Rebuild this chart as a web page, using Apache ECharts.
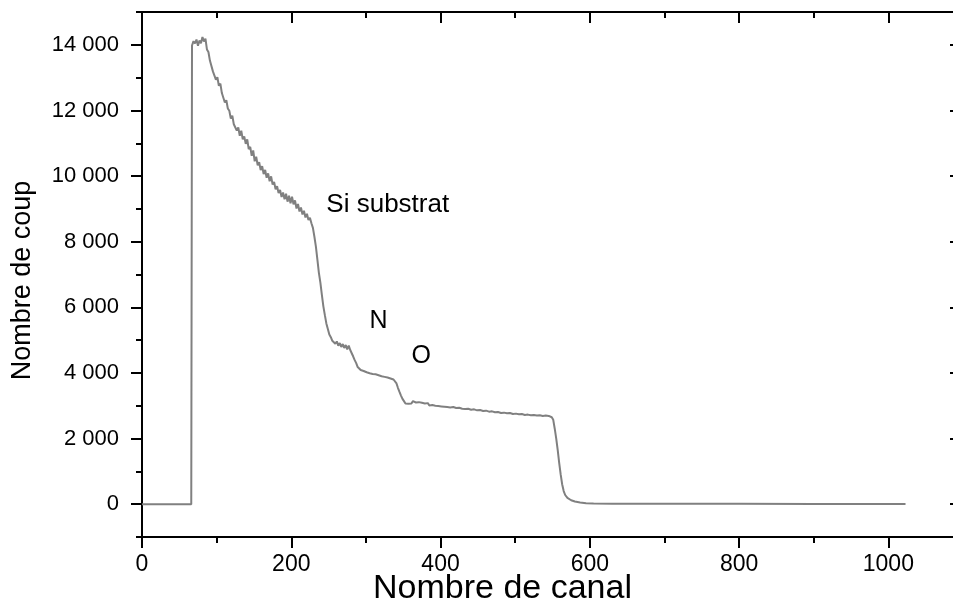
<!DOCTYPE html>
<html>
<head>
<meta charset="utf-8">
<script src="https://cdn.jsdelivr.net/npm/echarts@6/dist/echarts.min.js"></script>
<style>
html,body{margin:0;padding:0;overflow:hidden;background:#fff;width:953px;height:605px;}
#chart{width:953px;height:605px;}
</style>
</head>
<body>
<div id="chart"></div>
<script>
// ---- data ----
const channels = [0,66,
67,69,71,73,75,77,79,81,83,85,87,89,91,93,95,97,99,101,103,105,107,109,111,113,115,117,119,121,123,125,127,129,131,133,135,137,139,141,143,145,147,149,151,153,155,157,159,161,163,165,167,169,171,173,175,177,179,181,183,185,187,189,191,193,195,197,199,201,203,205,207,209,211,213,215,217,219,221,223,225,227,229,
231,233,235,237,239,241,243,245,247,249,251,253,255,257,259,261,263,265,267,269,271,273,275,277,279,281,283,285,287,289,291,293,295,297,299,301,303,305,307,309,311,313,315,317,319,321,323,325,327,329,331,333,335,337,339,341,343,345,347,349,351,353,355,357,
359,361,363,365,367,369,371,373,375,377,379,381,383,385,387,389,391,393,395,397,399,401,403,405,407,409,411,413,415,417,419,421,423,425,427,429,431,433,435,437,439,441,443,445,447,449,451,453,455,457,459,461,463,465,467,469,471,473,475,477,479,481,483,485,487,489,491,493,495,497,499,501,503,505,507,509,511,513,515,517,519,521,523,525,527,529,531,533,535,537,539,541,543,545,547,549,551,
553,555,557,559,561,563,565,567,570,575,580,587,595,605,630,680,750,800,900,1000,1023];
const counts = [0,0,
13980,14110,14040,14160,13970,14130,14050,14240,14100,14190,13860,13780,13520,13480,13190,13230,12940,13010,12750,12820,12530,12560,12240,12310,12060,11990,11750,11840,11580,11620,11390,11480,11230,11380,11120,11210,10980,11120,10820,10890,10620,10780,10450,10590,10330,10420,10180,10300,10060,10190,9950,10080,9840,9990,9740,9820,9600,9690,9480,9580,9360,9500,9290,9460,9220,9400,9170,9370,9140,9260,9010,9150,8920,9040,8830,8940,8740,8850,8660,8730,8560,8420,
8150,7850,7450,7050,6750,6380,6030,5760,5510,5340,5170,5090,4980,5010,4890,4960,4830,4910,4790,4880,4760,4850,4720,4830,4700,4640,4500,4390,4300,4180,4200,4090,4130,4060,4100,4020,4080,3990,4050,3970,4030,3960,4010,3930,3990,3900,3960,3880,3930,3860,3900,3830,3880,3800,3790,3680,3540,3420,3310,3210,3140,3070,3130,3060,
3120,3070,3140,3080,3100,3050,3110,3060,3090,3030,3070,3040,3080,3010,3050,3020,3060,3000,3030,2990,3040,2980,3020,2970,3010,2960,3000,2950,2990,2960,2980,2930,2970,2940,2960,2910,2950,2900,2940,2910,2930,2880,2920,2890,2910,2860,2900,2870,2890,2840,2880,2850,2870,2820,2860,2830,2850,2800,2840,2810,2830,2780,2820,2790,2810,2770,2800,2780,2790,2750,2790,2760,2780,2740,2770,2750,2760,2720,2760,2730,2750,2710,2750,2720,2740,2700,2740,2710,2730,2690,2740,2700,2720,2690,2700,2650,2570,
2300,2000,1650,1250,900,600,400,280,190,120,80,50,30,20,15,12,10,10,8,6,5];

const xMajorTicks = [0,200,400,600,800,1000];
const xMinorTicks = [100,300,500,700,900,1100];
const xTickLabels = ['0','200','400','600','800','1000'];
const yMajorTicks = [0,2000,4000,6000,8000,10000,12000,14000];
const yMinorTicks = [-1000,1000,3000,5000,7000,9000,11000,13000,15000];
const yTickLabels = ['0','2 000','4 000','6 000','8 000','10 000','12 000','14 000'];

const annotationTexts = ['Si substrat','N','O'];
const annotationX = [247,317,374];
const annotationY = [9130,5580,4500];

const xTitle = 'Nombre de canal';
const yTitle = 'Nombre de coup';

// ---- chart ----
const FONT = 'Liberation Sans, Arial, sans-serif';
const seriesData = channels.map((c,i)=>[c,counts[i]]);
const lineStyle = {color:'#000',width:2};

function xAxisDef(pos, ticks, len, inside, withLabel){
  return {
    type:'value', position:pos, min:0, max:1100, gridIndex:0,
    axisLine:{show:true, onZero:false, lineStyle},
    axisTick:{show:true, inside, length:len, customValues:ticks, lineStyle},
    axisLabel:withLabel ? {show:true, customValues:xMajorTicks, margin:16,
      fontFamily:FONT, fontSize:23, color:'#000',
      formatter:v=>xTickLabels[xMajorTicks.indexOf(v)] ?? ''} : {show:false},
    splitLine:{show:false}
  };
}
function yAxisDef(pos, ticks, len, inside, withLabel, showLine){
  return {
    type:'value', position:pos, min:-1000, max:15000, gridIndex:0,
    axisLine:{show:showLine, onZero:false, lineStyle},
    axisTick:{show:true, inside, length:len, customValues:ticks, lineStyle},
    axisLabel:withLabel ? {show:true, customValues:yMajorTicks, margin:23,
      fontFamily:FONT, fontSize:22, color:'#000',
      formatter:v=>yTickLabels[yMajorTicks.indexOf(v)] ?? ''} : {show:false},
    splitLine:{show:false}
  };
}

const xAxes = [
  xAxisDef('bottom', xMajorTicks, 11, false, true),
  xAxisDef('bottom', xMinorTicks, 6, false, false),
  xAxisDef('top', xMajorTicks, 11, true, false),
  xAxisDef('top', xMinorTicks, 6, true, false)
];
xAxes[0].name = xTitle;
xAxes[0].nameLocation = 'middle';
xAxes[0].nameGap = 35;
xAxes[0].nameMoveOverlap = false;
xAxes[0].nameTextStyle = {fontFamily:FONT, fontSize:34, color:'#000', padding:[0,100,0,0]};

const yAxes = [
  yAxisDef('left', yMajorTicks, 11, false, true, true),
  yAxisDef('left', yMinorTicks, 6, false, false, true),
  yAxisDef('right', yMajorTicks, 13, true, false, false),
  yAxisDef('right', yMinorTicks, 6, true, false, false)
];
yAxes[0].name = yTitle;
yAxes[0].nameLocation = 'middle';
yAxes[0].nameGap = 106;
yAxes[0].nameMoveOverlap = false;
yAxes[0].nameTextStyle = {fontFamily:FONT, fontSize:27, color:'#000', padding:[0,12,0,0]};

const chart = echarts.init(document.getElementById('chart'), null, {renderer:'canvas'});
chart.setOption({
  animation:false,
  backgroundColor:'#fff',
  grid:{left:142, top:12, width:821, height:525, containLabel:false, outerBoundsMode:'none'},
  xAxis:xAxes,
  yAxis:yAxes,
  series:[
    {
      type:'line', xAxisIndex:0, yAxisIndex:0, data:seriesData,
      showSymbol:false, symbol:'none', smooth:false,
      lineStyle:{color:'#808080', width:2}
    },
    {
      type:'scatter', xAxisIndex:0, yAxisIndex:0, symbolSize:0,
      itemStyle:{opacity:1, color:'#000'},
      data:annotationTexts.map((t,i)=>({
        value:[annotationX[i],annotationY[i]], name:t,
        label:{fontSize: i===0 ? 26 : 25, align: i===0 ? 'left' : 'center', color:'#000'}
      })),
      label:{show:true, position:'inside', formatter:p=>p.name, opacity:1,
        fontFamily:FONT, color:'#000', verticalAlign:'middle', textBorderWidth:0},
      emphasis:{disabled:true},
      silent:true
    }
  ]
});
</script>
</body>
</html>
